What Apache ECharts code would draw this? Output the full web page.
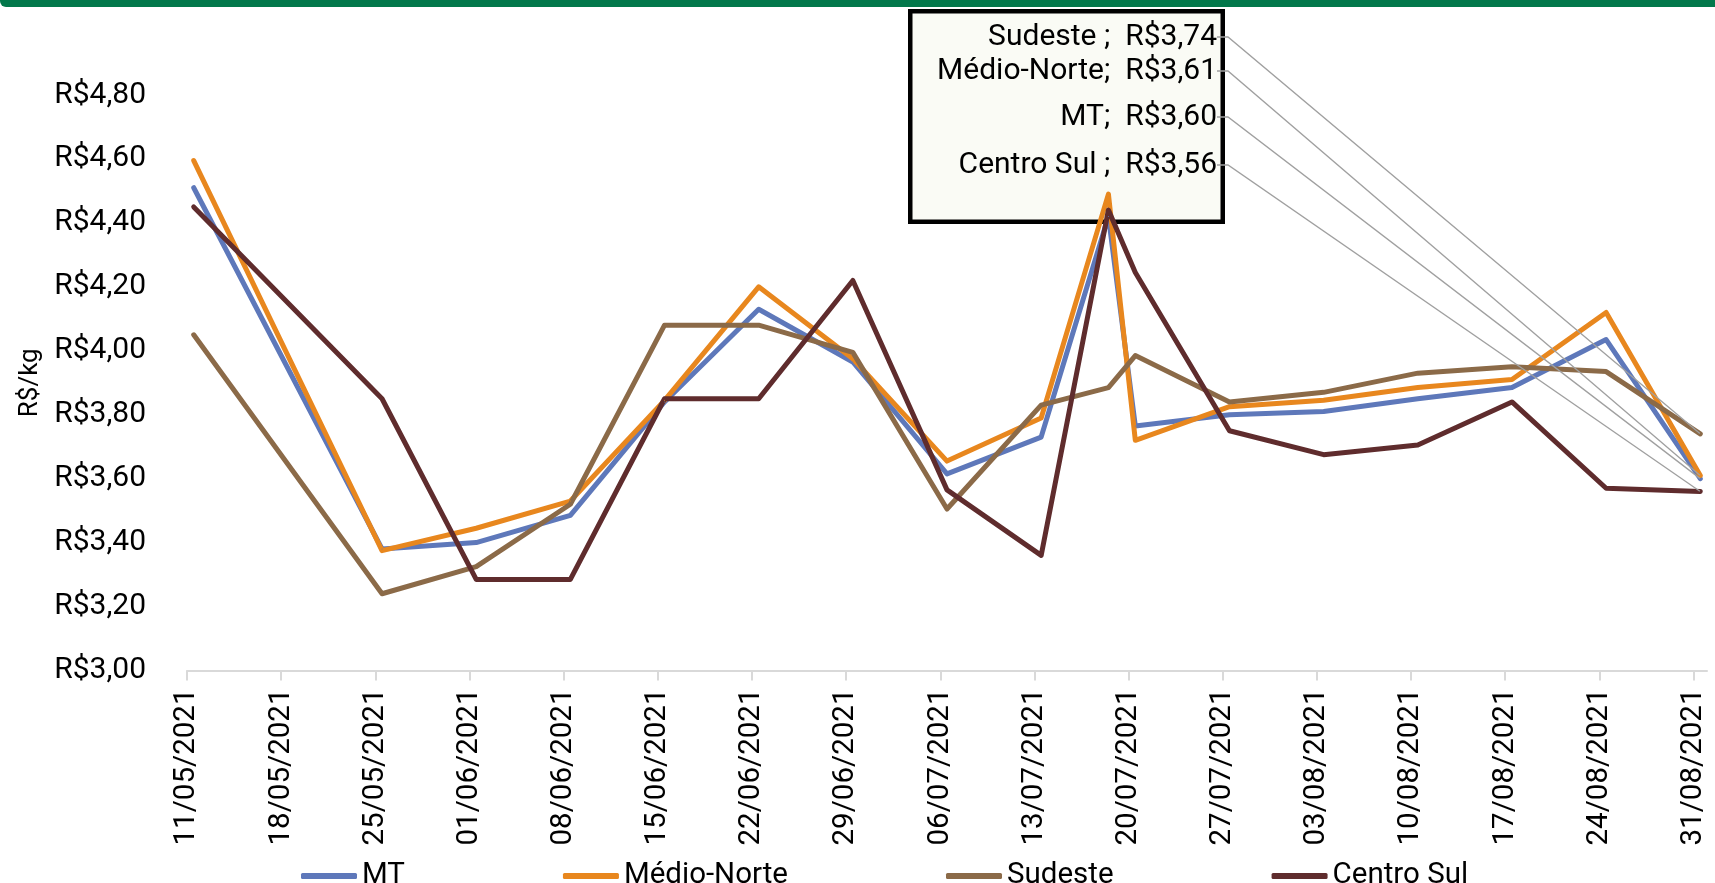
<!DOCTYPE html>
<html>
<head>
<meta charset="utf-8">
<script src="https://cdn.jsdelivr.net/npm/echarts@6/dist/echarts.min.js"></script>
<style>
html,body{margin:0;padding:0;background:#ffffff;}
#chart{width:1715px;height:883px;}
</style>
</head>
<body>
<div id="chart"></div>
<script>
// ---- Data ----
const dates = ['11/05/2021','25/05/2021','01/06/2021','08/06/2021','15/06/2021','22/06/2021','29/06/2021','06/07/2021','13/07/2021','18/07/2021','20/07/2021','27/07/2021','03/08/2021','10/08/2021','17/08/2021','24/08/2021','31/08/2021'];
const tickLabels = ['11/05/2021','18/05/2021','25/05/2021','01/06/2021','08/06/2021','15/06/2021','22/06/2021','29/06/2021','06/07/2021','13/07/2021','20/07/2021','27/07/2021','03/08/2021','10/08/2021','17/08/2021','24/08/2021','31/08/2021'];
const seriesNames = ['MT','Médio-Norte','Sudeste','Centro Sul'];
const labelNames = ['MT','Médio-Norte','Sudeste ','Centro Sul '];
const mtValues = [4.51,3.38,3.40,3.485,3.84,4.13,3.965,3.615,3.73,4.42,3.765,3.80,3.81,3.85,3.885,4.035,3.60];
const medioNorteValues = [4.595,3.375,3.445,3.53,3.845,4.20,3.975,3.655,3.79,4.49,3.72,3.825,3.845,3.885,3.91,4.12,3.61];
const sudesteValues = [4.05,3.24,3.325,3.52,4.08,4.08,3.995,3.505,3.83,3.885,3.985,3.84,3.87,3.93,3.95,3.935,3.74];
const centroSulValues = [4.45,3.85,3.285,3.285,3.85,3.85,4.22,3.565,3.36,4.44,4.245,3.75,3.675,3.705,3.84,3.57,3.56];

// ---- Styles ----
const colors = ['#5E78BA','#E8871E','#8B6A48','#5F2C2D'];
const labelY = [117, 71, 37, 165];
const FONT = 'Roboto, "Noto Sans", sans-serif';

function toDay(s){
  const p = s.split('/').map(Number);
  const b = tickLabels[0].split('/').map(Number);
  return Math.round((Date.UTC(p[2],p[1]-1,p[0]) - Date.UTC(b[2],b[1]-1,b[0])) / 86400000);
}
function dayToLabel(v){
  const b = tickLabels[0].split('/').map(Number);
  const d = new Date(Date.UTC(b[2],b[1]-1,b[0]) + v*86400000);
  const dd = String(d.getUTCDate()).padStart(2,'0');
  const mm = String(d.getUTCMonth()+1).padStart(2,'0');
  return dd + '/' + mm + '/' + d.getUTCFullYear();
}
const tickValues = tickLabels.map(toDay);
const xMax = tickValues[tickValues.length-1] + 1;
const allValues = [mtValues, medioNorteValues, sudesteValues, centroSulValues];

const series = allValues.map((vals, si) => {
  const data = vals.map((v, i) => {
    const pt = [toDay(dates[i]) + 0.5, v];
    if (i === vals.length - 1) {
      return {
        value: pt,
        label: {
          show: true,
          formatter: (p) => labelNames[si] + ';  R$' + p.value[1].toFixed(2).replace('.', ','),
          fontFamily: FONT, fontSize: 30, color: '#000000',
          padding: [0, 8, 0, 0]
        },
        labelLine: { show: true, length2: 11, smooth: false,
          lineStyle: { color: '#A0A0A0', width: 1.3 } }
      };
    }
    return pt;
  });
  return {
    name: seriesNames[si],
    type: 'line',
    data: data,
    showSymbol: true,
    symbol: 'circle',
    symbolSize: 1,
    itemStyle: { color: colors[si] },
    lineStyle: { color: colors[si], width: 5, cap: 'round', join: 'round' },
    label: { show: false },
    labelLayout: { x: 1225, y: labelY[si], align: 'right', verticalAlign: 'middle' },
    emphasis: { disabled: true },
    z: 3
  };
});

const chart = echarts.init(document.getElementById('chart'), null, { renderer: 'canvas' });
chart.setOption({
  animation: false,
  backgroundColor: '#ffffff',
  textStyle: { fontFamily: FONT },
  grid: { left: 187, right: 8, top: 95, bottom: 212.5, outerBoundsMode: 'none', containLabel: false },
  xAxis: {
    type: 'value',
    min: 0, max: xMax, interval: 7,
    axisLine: { show: true, lineStyle: { color: '#D9D9D9', width: 2 } },
    axisTick: { show: true, length: 10, lineStyle: { color: '#D9D9D9', width: 2 }, customValues: tickValues },
    splitLine: { show: false },
    axisLabel: {
      customValues: tickValues,
      rotate: 90, margin: 18,
      fontFamily: FONT, fontSize: 29.5, color: '#000000',
      formatter: (v) => dayToLabel(v)
    }
  },
  yAxis: {
    type: 'value',
    min: 3, max: 4.8, interval: 0.2,
    name: 'R$/kg', nameLocation: 'middle', nameGap: 143, nameRotate: 90,
    nameTextStyle: { fontFamily: FONT, fontSize: 26, color: '#000000' },
    axisLine: { show: false }, axisTick: { show: false }, splitLine: { show: false },
    axisLabel: {
      margin: 41, fontFamily: FONT, fontSize: 30, color: '#000000',
      formatter: (v) => 'R$' + v.toFixed(2).replace('.', ',')
    }
  },
  legend: {
    data: seriesNames,
    left: 296, top: 856,
    itemWidth: 56, itemHeight: 6, itemGap: 158,
    icon: 'roundRect',
    textStyle: { fontFamily: FONT, fontSize: 29.5, color: '#000000' }
  },
  graphic: [
    { type: 'rect', z: 100, shape: { x: 0, y: 0, width: 1715, height: 7, r: [0,0,0,6] }, style: { fill: '#03784B' } },
    { type: 'rect', z: 0, shape: { x: 910.25, y: 11.25, width: 312.5, height: 210.5 }, style: { fill: '#FAFBF5', stroke: '#000000', lineWidth: 4.5 } }
  ],
  series: series
});
</script>
</body>
</html>
